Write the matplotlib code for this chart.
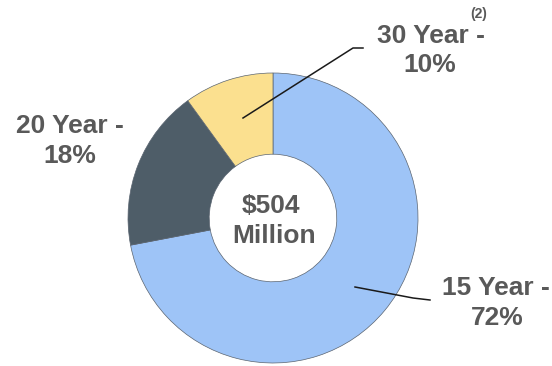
import matplotlib
matplotlib.use("Agg")
import matplotlib.pyplot as plt

categories = ["15 Year", "20 Year", "30 Year"]
shares = [72, 18, 10]
colors = ["#9ec4f7", "#4e5d68", "#fbe08f"]
total_label = ["$504", "Million"]

W, H = 552, 366
fig = plt.figure(figsize=(W / 100, H / 100), dpi=100)
ax = fig.add_axes([0, 0, 1, 1])

def Y(y):
    return H - y

cx, cy, R = 273, Y(218), 145
ax.pie(shares, colors=colors, startangle=90, counterclock=False,
       center=(cx, cy), radius=R, frame=True,
       wedgeprops=dict(width=R * 0.56, edgecolor="#5a6470", linewidth=0.5))
ax.set_xlim(0, W)
ax.set_ylim(0, H)
ax.set_aspect("equal")
ax.axis("off")

txt = dict(color="#595959", fontweight="bold", fontsize=19,
           family="Liberation Sans", ha="center", va="baseline")

# labels
ax.text(431, Y(43), f"{categories[2]} -", **txt)
ax.text(430, Y(72), f"{shares[2]}%", **txt)
ax.text(479, Y(18), "(2)", color="#595959", fontweight="bold", fontsize=10,
        family="Liberation Sans", ha="center", va="baseline")
ax.text(70, Y(133), f"{categories[1]} -", **txt)
ax.text(70, Y(163), f"{shares[1]}%", **txt)
ax.text(496, Y(295), f"{categories[0]} -", **txt)
ax.text(497, Y(325), f"{shares[0]}%", **txt)
ax.text(271, Y(213), total_label[0], **txt)
ax.text(274, Y(243), total_label[1], **txt)

# leader lines
ax.plot([243, 353, 363], [Y(118), Y(48), Y(48)], color="#1a1a1a", lw=1.1)
ax.plot([355, 413, 430], [Y(287), Y(298), Y(300)], color="#1a1a1a", lw=1.1)

fig.savefig("out.png", dpi=100)
